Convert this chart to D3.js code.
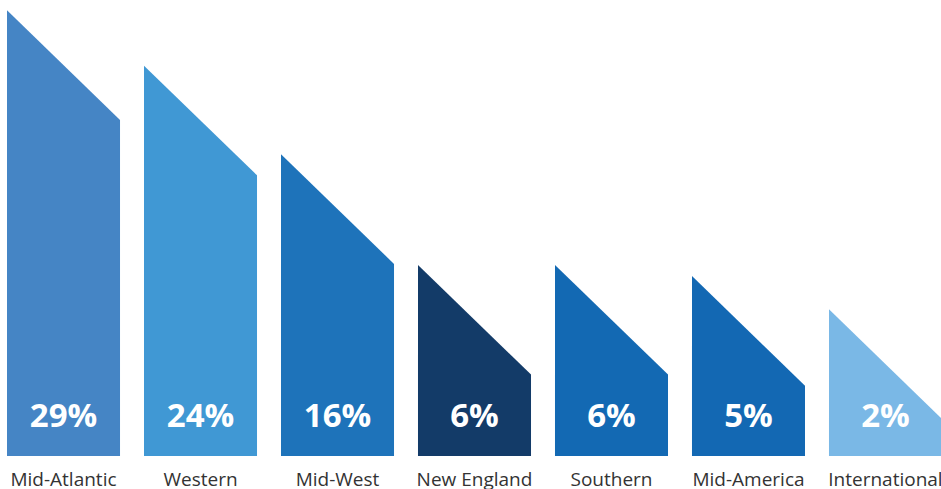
<!DOCTYPE html>
<html>
<head>
<meta charset="utf-8">
<script src="https://cdn.jsdelivr.net/npm/d3@7"></script>
<style>
  html, body { margin: 0; padding: 0; background: #fff; }
  svg { display: block; }
</style>
</head>
<body>
<div id="chart"></div>
<script>
var regions = ["Mid-Atlantic", "Western", "Mid-West", "New England", "Southern", "Mid-America", "International"];
var shares = [29, 24, 16, 6, 6, 5, 2];
var colors = ["#4585c5", "#4098d4", "#1e73ba", "#133b68", "#1369b3", "#1368b3", "#7ab8e6"];

var width = 941, height = 489;
var baseY = 456;

var svg = d3.select("#chart").append("svg")
    .attr("width", width)
    .attr("height", height);

var x = d3.scaleBand()
    .domain(regions)
    .range([7, 942])
    .paddingInner(0.175)
    .paddingOuter(0);

var y = d3.scaleLinear()
    .domain([0, 29])
    .range([baseY - 15, 120]);

var bw = x.bandwidth();
var peak = bw * 0.97;   // height of the slanted cap

var data = regions.map(function(r, i) {
    return { name: r, value: shares[i], color: colors[i] };
});

var g = svg.append("g");

g.selectAll("path.bar")
    .data(data)
    .enter().append("path")
    .attr("class", "bar")
    .attr("fill", function(d) { return d.color; })
    .attr("d", function(d) {
        var x0 = x(d.name), x1 = x0 + bw, top = y(d.value);
        var p = d3.path();
        p.moveTo(x0, baseY);
        p.lineTo(x0, top - peak);
        p.lineTo(x1, top);
        p.lineTo(x1, baseY);
        p.closePath();
        return p.toString();
    });

g.selectAll("text.val")
    .data(data)
    .enter().append("text")
    .attr("class", "val")
    .attr("x", function(d) { return x(d.name) + bw / 2; })
    .attr("y", 427)
    .attr("text-anchor", "middle")
    .attr("fill", "#fff")
    .style("font-family", "'Open Sans', sans-serif")
    .style("font-weight", "bold")
    .style("font-size", "33px")
    .text(function(d) { return d.value + "%"; });

g.selectAll("text.cat")
    .data(data)
    .enter().append("text")
    .attr("class", "cat")
    .attr("x", function(d) { return x(d.name) + bw / 2; })
    .attr("y", 486)
    .attr("text-anchor", "middle")
    .attr("fill", "#333")
    .style("font-family", "'Open Sans', sans-serif")
    .style("font-size", "19px")
    .text(function(d) { return d.name; });
</script>
</body>
</html>
